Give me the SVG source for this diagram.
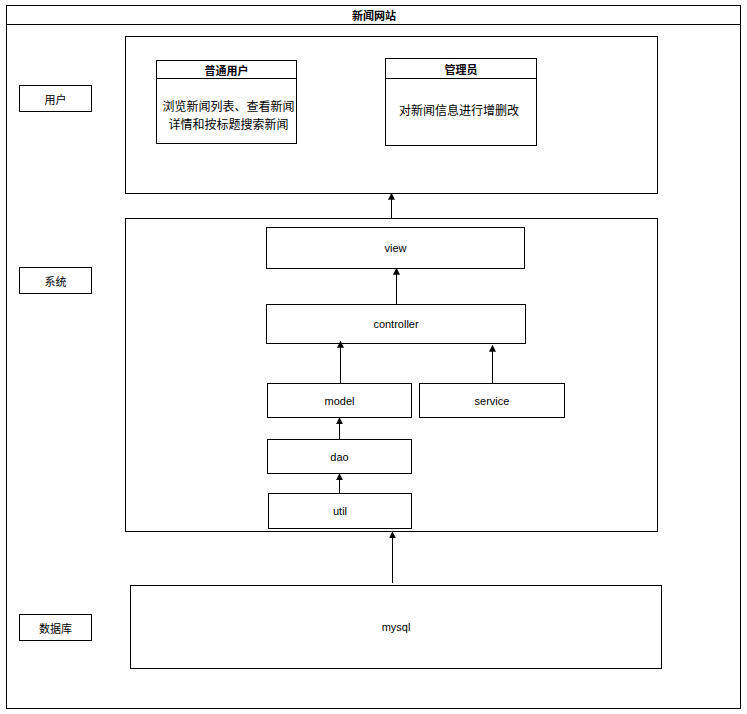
<svg xmlns="http://www.w3.org/2000/svg" width="747" height="714" viewBox="0 0 747 714">
  <style>
    .box { fill: #ffffff; stroke: #000000; stroke-width: 1; }
    .t { font-family: "Liberation Sans", "Noto Sans CJK SC", sans-serif; font-size: 11px; fill: #000000; text-anchor: middle; dominant-baseline: central; }
    .cn { font-family: "Noto Sans CJK SC", "Liberation Sans", sans-serif; font-size: 11px; fill: #000000; text-anchor: middle; dominant-baseline: central; }
    .b { font-weight: bold; }
    .desc { font-size: 12px; }
    .edge { fill: none; stroke: #000000; stroke-width: 1; marker-end: url(#arrow); }
  </style>
  <defs>
    <marker id="arrow" viewBox="0 0 10 10" refX="9" refY="5" markerWidth="7" markerHeight="7" markerUnits="userSpaceOnUse" orient="auto">
      <path d="M0,0 L10,5 L0,10 Z" fill="#000000"/>
    </marker>
  </defs>

  <rect width="747" height="714" fill="#ffffff"/>

  <!-- outer pool with title bar -->
  <g id="pool">
    <rect class="box" x="6.5" y="5.5" width="734" height="703"/>
    <line x1="6.5" y1="24.5" x2="740.5" y2="24.5" stroke="#000000"/>
    <text class="cn b" x="374" y="15">新闻网站</text>
  </g>

  <!-- lane labels -->
  <g id="lane-user">
    <rect class="box" x="19.5" y="85.5" width="72" height="26"/>
    <text class="cn" x="55.5" y="98.5">用户</text>
  </g>
  <g id="lane-system">
    <rect class="box" x="19.5" y="267.5" width="72" height="26"/>
    <text class="cn" x="55.5" y="280.5">系统</text>
  </g>
  <g id="lane-db">
    <rect class="box" x="19.5" y="614.5" width="72" height="26"/>
    <text class="cn" x="55.5" y="627.5">数据库</text>
  </g>

  <!-- user layer -->
  <g id="user-layer">
    <rect class="box" x="125.5" y="36.5" width="532" height="157"/>
  </g>
  <g id="normal-user">
    <rect class="box" x="156.5" y="60.5" width="140" height="83"/>
    <line x1="156.5" y1="78.5" x2="296.5" y2="78.5" stroke="#000000"/>
    <text class="cn b" x="226.5" y="69.5">普通用户</text>
    <text class="cn desc" x="228.5" y="105.5">浏览新闻列表、查看新闻</text>
    <text class="cn desc" x="228.5" y="123.5">详情和按标题搜索新闻</text>
  </g>
  <g id="admin">
    <rect class="box" x="385.5" y="58.5" width="151" height="87"/>
    <line x1="385.5" y1="78.5" x2="536.5" y2="78.5" stroke="#000000"/>
    <text class="cn b" x="461" y="68.5">管理员</text>
    <text class="cn desc" x="459" y="109">对新闻信息进行增删改</text>
  </g>

  <!-- system layer -->
  <g id="system-layer">
    <rect class="box" x="125.5" y="218.5" width="532" height="313"/>
  </g>
  <g id="view">
    <rect class="box" x="266.5" y="227.5" width="258" height="41"/>
    <text class="t" x="395.5" y="248">view</text>
  </g>
  <g id="controller">
    <rect class="box" x="266.5" y="304.5" width="259" height="39"/>
    <text class="t" x="396" y="324">controller</text>
  </g>
  <g id="model">
    <rect class="box" x="267.5" y="383.5" width="144" height="34"/>
    <text class="t" x="339.5" y="400.5">model</text>
  </g>
  <g id="service">
    <rect class="box" x="419.5" y="383.5" width="145" height="34"/>
    <text class="t" x="492" y="400.5">service</text>
  </g>
  <g id="dao">
    <rect class="box" x="267.5" y="439.5" width="144" height="34"/>
    <text class="t" x="339.5" y="456.5">dao</text>
  </g>
  <g id="util">
    <rect class="box" x="268.5" y="493.5" width="143" height="35"/>
    <text class="t" x="340" y="511">util</text>
  </g>

  <!-- database layer -->
  <g id="mysql">
    <rect class="box" x="130.5" y="585.5" width="531" height="83"/>
    <text class="t" x="396" y="627">mysql</text>
  </g>

  <!-- connectors -->
  <g id="connectors">
    <line class="edge" x1="391.5" y1="218" x2="391.5" y2="193.5"/>
    <line class="edge" x1="396.5" y1="304" x2="396.5" y2="268.5"/>
    <line class="edge" x1="340.5" y1="383" x2="340.5" y2="341.5"/>
    <line class="edge" x1="492.5" y1="383" x2="492.5" y2="345.5"/>
    <line class="edge" x1="339.5" y1="439" x2="339.5" y2="418"/>
    <line class="edge" x1="339.5" y1="493" x2="339.5" y2="474"/>
    <line class="edge" x1="392.5" y1="583" x2="392.5" y2="532"/>
  </g>
</svg>
